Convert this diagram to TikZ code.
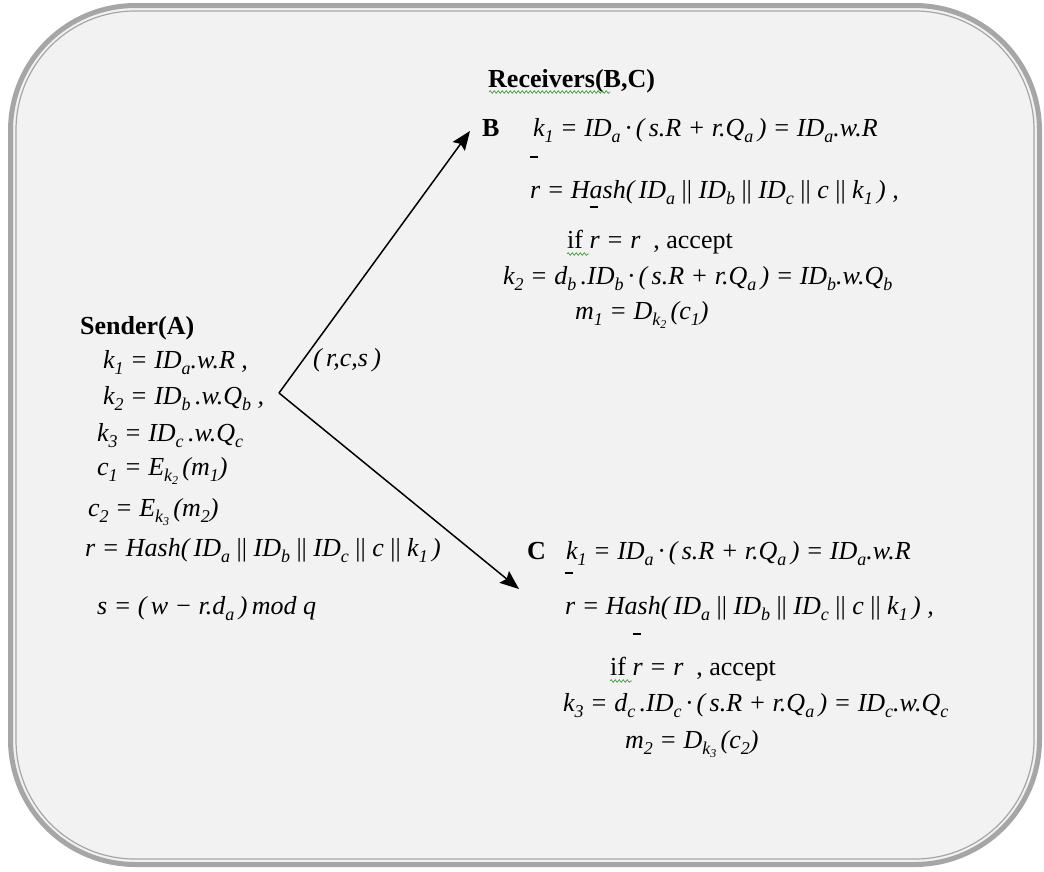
\documentclass[tikz,border=0pt]{standalone}
\usepackage{fontspec}
\setmainfont{Liberation Serif}
\usetikzlibrary{arrows.meta,decorations.pathmorphing}
\newcommand\sbs[1]{\raisebox{-6pt}{\fontsize{18}{18}\selectfont #1}}
\newcommand\ssb[1]{\raisebox{-3.5pt}{\fontsize{12}{12}\selectfont #1}}
\newcommand\rbar{\rlap{\raisebox{40pt}{\rule{8pt}{1.8pt}}}r}
\definecolor{panel}{HTML}{F2F2F2}
\definecolor{frame}{HTML}{A6A6A6}
\definecolor{squig}{HTML}{3FA33F}
\begin{document}
\begin{tikzpicture}[x=1pt,y=-1pt,
  txt/.style={anchor=base west,inner sep=0pt,font=\fontsize{26}{30}\selectfont\itshape},
  hd/.style={anchor=base west,inner sep=0pt,font=\fontsize{26}{30}\selectfont\bfseries},
  msg/.style={line width=1.5pt,-{Stealth[length=19pt,width=15pt,inset=3pt]}},
  wavy/.style={squig,line width=0.7pt,decorate,decoration={snake,segment length=4pt,amplitude=1.3pt}}]
\useasboundingbox (0,0) rectangle (1044,871);
% frame
\draw[frame,line width=5pt,fill=panel,rounded corners=125pt] (10.5,5.5) rectangle (1039.5,864.5);
\draw[frame,line width=1.2pt,rounded corners=119pt] (16,11) rectangle (1034,859);
% Receivers
\node[hd] (recv) at (488,87) {Receivers(B,C)};
\draw[wavy] (489,92) -- (610,92);
\node[hd] (lb) at (482,136) {B};
\node[txt] (b1) at (533,136) {k\sbs{1} = ID\sbs{a}\,·\,(\,s.R + r.Q\sbs{a}\,) = ID\sbs{a}.w.R};
\node[txt] (b2) at (530,198) {\rbar\ = Hash(\,ID\sbs{a} \upshape{||} \itshape ID\sbs{b} \upshape{||} \itshape ID\sbs{c} \upshape{||} \itshape c \upshape{||} \itshape k\sbs{1}\,) ,};
\node[txt] (b3) at (567,248) {\upshape if \itshape\rbar\ = r \ \upshape , accept};
\draw[wavy] (567,254) -- (589,254);
\node[txt] (b4) at (503,284) {k\sbs{2} = d\sbs{b}\,.ID\sbs{b}\,·\,(\,s.R + r.Q\sbs{a}\,) = ID\sbs{b}.w.Q\sbs{b}};
\node[txt] (b5) at (575,319) {m\sbs{1} = D\sbs{k\ssb{2}}\,(c\sbs{1})};
% Sender
\node[hd] (send) at (80,334) {Sender(A)};
\node[txt] (a1) at (103,368) {k\sbs{1} = ID\sbs{a}.w.R ,};
\node[txt] (a2) at (103,404) {k\sbs{2} = ID\sbs{b}\,.w.Q\sbs{b} ,};
\node[txt] (a3) at (97,441) {k\sbs{3} = ID\sbs{c}\,.w.Q\sbs{c}};
\node[txt] (a4) at (97,475) {c\sbs{1} = E\sbs{k\ssb{2}}\,(m\sbs{1})};
\node[txt] (a5) at (88,516) {c\sbs{2} = E\sbs{k\ssb{3}}\,(m\sbs{2})};
\node[txt] (a6) at (85,556) {r = Hash(\,ID\sbs{a} \upshape{||} \itshape ID\sbs{b} \upshape{||} \itshape ID\sbs{c} \upshape{||} \itshape c \upshape{||} \itshape k\sbs{1}\,)};
\node[txt] (a7) at (97,614) {s = (\,w − r.d\sbs{a}\,)\,mod q};
\node[txt] (rcs) at (313,366) {(\,r,c,s\,)};
% C
\node[hd] (lc) at (527,559) {C};
\node[txt] (c1) at (566,559) {k\sbs{1} = ID\sbs{a}\,·\,(\,s.R + r.Q\sbs{a}\,) = ID\sbs{a}.w.R};
\node[txt] (c2) at (565,614) {\rbar\ = Hash(\,ID\sbs{a} \upshape{||} \itshape ID\sbs{b} \upshape{||} \itshape ID\sbs{c} \upshape{||} \itshape c \upshape{||} \itshape k\sbs{1}\,) ,};
\node[txt] (c3) at (610,675) {\upshape if \itshape\rbar\ = r \ \upshape , accept};
\draw[wavy] (610,681) -- (632,681);
\node[txt] (c4) at (563,711) {k\sbs{3} = d\sbs{c}\,.ID\sbs{c}\,·\,(\,s.R + r.Q\sbs{a}\,) = ID\sbs{c}.w.Q\sbs{c}};
\node[txt] (c5) at (625,748) {m\sbs{2} = D\sbs{k\ssb{3}}\,(c\sbs{2})};
% arrows
\coordinate (v) at (279,393);
\coordinate (tb) at (470,131);
\coordinate (tc) at (519,589);
\draw[msg] (v) -- (tb);
\draw[msg] (v) -- (tc);
\end{tikzpicture}
\end{document}
